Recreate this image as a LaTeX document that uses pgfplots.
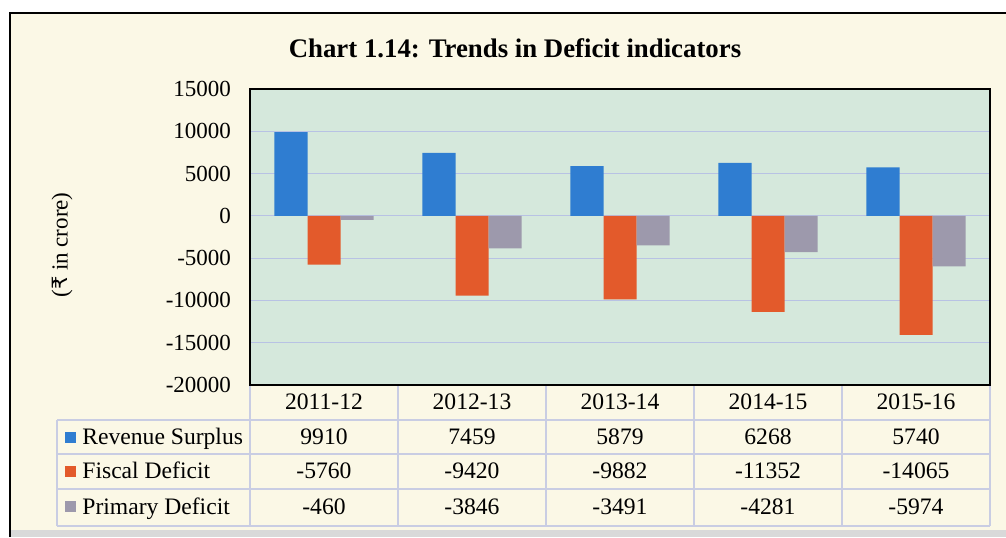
\documentclass[border=0pt]{standalone}
\usepackage{fontspec}
\setmainfont{Liberation Serif}
\newfontfamily\rupeefont{DejaVu Sans}
\usepackage{pgfplots}
\usepackage{pgfplotstable}
\pgfplotsset{compat=1.18}
\definecolor{cream}{HTML}{FBF8E6}
\definecolor{plotbg}{HTML}{D5E8DC}
\definecolor{gridc}{HTML}{B8C2E4}
\definecolor{tabline}{HTML}{C9CDE3}
\definecolor{revblue}{HTML}{2F7DD1}
\definecolor{fisorange}{HTML}{E35A2B}
\definecolor{primgrey}{HTML}{9D99AC}

\pgfplotstableread{
x rev fis prim
0 9910 -5760 -460
1 7459 -9420 -3846
2 5879 -9882 -3491
3 6268 -11352 -4281
4 5740 -14065 -5974
}\deficits

\begin{document}
\begin{tikzpicture}
% frame, in pixel units of the reference (y downwards)
\begin{scope}[x=0.5pt,y=-0.5pt,yshift=268.5pt]
  \path[use as bounding box, fill=white] (0,0) rectangle (1006,537);
  \fill[cream] (10,13) rectangle (1006,537);
  \fill[black!15] (10,530) rectangle (1006,537);
  \draw[black, line width=1.2pt] (10,537) -- (10,13) -- (1006,13);
  \node[font=\bfseries\fontsize{13.4}{15}\selectfont] at (515,48)
    {Chart 1.14: Trends in Deficit indicators};
  \node[rotate=90, font=\fontsize{11.5}{13}\selectfont] at (62,245)
    {({\rupeefont\fontsize{10.5}{13}\selectfont ₹} in crore)};
\end{scope}

\begin{axis}[
  at={(125pt,76pt)}, anchor=south west,
  scale only axis, width=370pt, height=148pt,
  ybar=0pt, bar width=0.223,
  xmin=-0.5, xmax=4.5, ymin=-20000, ymax=15000,
  xtick=\empty,
  ytick={-20000,-15000,...,15000},
  scaled y ticks=false,
  /pgf/number format/1000 sep={},
  /pgf/number format/assume math mode=true,
  yticklabel style={font=\fontsize{11.5}{13}\selectfont, xshift=-6pt},
  major tick length=0pt,
  ymajorgrids, grid style={gridc, line width=0.6pt},
  axis background/.style={fill=plotbg},
  axis line style={black, line width=0.8pt},
]
\addplot[fill=revblue, draw=none] table[x=x, y=rev] {\deficits};
\addplot[fill=fisorange, draw=none] table[x=x, y=fis] {\deficits};
\addplot[fill=primgrey, draw=none] table[x=x, y=prim] {\deficits};
\end{axis}

% data table under the plot
\begin{scope}[x=0.5pt,y=-0.5pt,yshift=268.5pt,
    font=\fontsize{11.8}{13}\selectfont]
  \draw[tabline, line width=0.8pt]
    (57,420) -- (990,420) (57,454) -- (990,454)
    (57,489) -- (990,489) (57,526) -- (990,526)
    (57,420) -- (57,526);
  \foreach \xx in {250,398,546,694,842,990}
    \draw[tabline, line width=0.8pt] (\xx,386) -- (\xx,526);
  \fill[revblue] (65,432) rectangle (76,443);
  \fill[fisorange] (65,466) rectangle (76,477);
  \fill[primgrey] (65,501) rectangle (76,512);
  \node[anchor=base west, inner sep=0pt] at (82,444) {Revenue Surplus};
  \node[anchor=base west, inner sep=0pt] at (82,478) {Fiscal Deficit};
  \node[anchor=base west, inner sep=0pt] at (82,514) {Primary Deficit};
  \foreach \i/\lab in {0/2011-12,1/2012-13,2/2013-14,3/2014-15,4/2015-16} {
    \pgfmathsetmacro{\cx}{324+148*\i}
    \node[anchor=base, inner sep=0pt] at (\cx,409) {\lab};
    \pgfplotstablegetelem{\i}{rev}\of\deficits
    \node[anchor=base, inner sep=0pt] at (\cx,444) {\pgfplotsretval};
    \pgfplotstablegetelem{\i}{fis}\of\deficits
    \node[anchor=base, inner sep=0pt] at (\cx,478) {\pgfplotsretval};
    \pgfplotstablegetelem{\i}{prim}\of\deficits
    \node[anchor=base, inner sep=0pt] at (\cx,514) {\pgfplotsretval};
  }
\end{scope}
\end{tikzpicture}
\end{document}
